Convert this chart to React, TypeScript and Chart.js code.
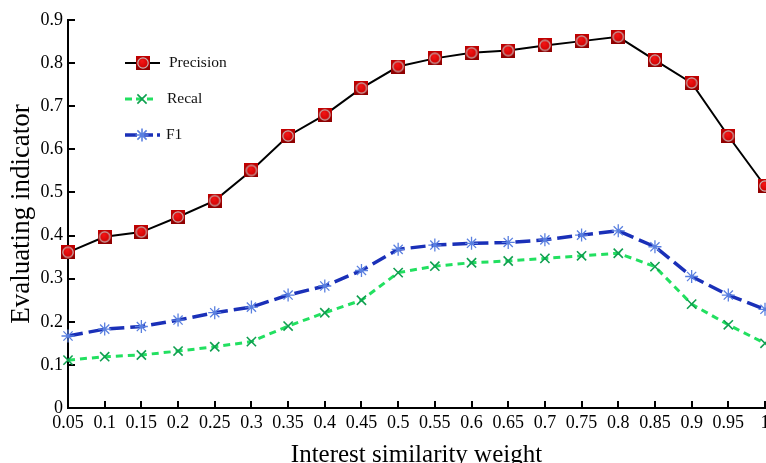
import React, { useEffect, useRef } from 'react';
import { Chart, registerables } from 'chart.js';

Chart.register(...registerables);

const categories = ['0.05', '0.1', '0.15', '0.2', '0.25', '0.3', '0.35', '0.4', '0.45', '0.5', '0.55', '0.6', '0.65', '0.7', '0.75', '0.8', '0.85', '0.9', '0.95', '1'];
const precision = [0.361, 0.397, 0.408, 0.443, 0.481, 0.551, 0.631, 0.680, 0.742, 0.792, 0.811, 0.824, 0.829, 0.841, 0.851, 0.861, 0.807, 0.754, 0.631, 0.515];
const recal = [0.111, 0.119, 0.123, 0.132, 0.142, 0.154, 0.190, 0.221, 0.250, 0.314, 0.329, 0.337, 0.341, 0.347, 0.353, 0.359, 0.328, 0.241, 0.193, 0.150];
const f1 = [0.167, 0.183, 0.189, 0.204, 0.221, 0.234, 0.262, 0.283, 0.319, 0.368, 0.378, 0.382, 0.384, 0.390, 0.401, 0.411, 0.374, 0.305, 0.262, 0.229];
const seriesNames = ['Precision', 'Recal', 'F1'];
const yMin = 0;
const yMax = 0.9;
const yStep = 0.1;
const xTitle = 'Interest similarity weight';
const yTitle = 'Evaluating indicator';

const FONT = "'Liberation Serif', 'Times New Roman', serif";

function makePrecisionMarker(): HTMLCanvasElement {
  const c = document.createElement('canvas');
  c.width = 14;
  c.height = 14;
  const g = c.getContext('2d')!;
  const grad = g.createLinearGradient(0, 0, 0, 14);
  grad.addColorStop(0, '#c40000');
  grad.addColorStop(1, '#8c0000');
  g.fillStyle = grad;
  g.fillRect(0, 0, 14, 14);
  g.beginPath();
  g.arc(7, 7, 5.2, 0, Math.PI * 2);
  const rg = g.createRadialGradient(6, 5, 1, 7, 7, 6);
  rg.addColorStop(0, '#f01414');
  rg.addColorStop(1, '#c80000');
  g.fillStyle = rg;
  g.fill();
  g.strokeStyle = '#c8b4b4';
  g.lineWidth = 1.2;
  g.stroke();
  return c;
}

export default function App() {
  const ref = useRef<HTMLCanvasElement | null>(null);

  useEffect(() => {
    if (!ref.current) return;
    const marker = makePrecisionMarker();

    const styles = [
      { line: '#000000', width: 2, dash: [] as number[], kind: 'img', mark: '#000' },
      { line: '#22e060', width: 3, dash: [7, 5], kind: 'x', mark: '#10a050' },
      { line: '#1a30b8', width: 3.5, dash: [15, 6], kind: 'star', mark: '#5a80e0' },
    ];

    const drawMark = (ctx: CanvasRenderingContext2D, kind: string, x: number, y: number, color: string) => {
      ctx.save();
      ctx.setLineDash([]);
      if (kind === 'img') {
        ctx.drawImage(marker, x - 7, y - 7);
      } else {
        ctx.strokeStyle = color;
        ctx.lineWidth = 1.6;
        const r = 6.5;
        const d = r * Math.SQRT1_2;
        ctx.beginPath();
        ctx.moveTo(x - d, y - d); ctx.lineTo(x + d, y + d);
        ctx.moveTo(x - d, y + d); ctx.lineTo(x + d, y - d);
        if (kind === 'star') {
          ctx.moveTo(x - r, y); ctx.lineTo(x + r, y);
          ctx.moveTo(x, y - r); ctx.lineTo(x, y + r);
        }
        ctx.stroke();
      }
      ctx.restore();
    };

    const decor = {
      id: 'decor',
      beforeDatasetsDraw(chart: any) {
        const ctx = chart.ctx as CanvasRenderingContext2D;
        const { left, bottom } = chart.chartArea;
        const xs = chart.scales.x;
        const ys = chart.scales.y;
        ctx.save();
        ctx.strokeStyle = '#000';
        ctx.lineWidth = 2;
        ctx.beginPath();
        xs.ticks.forEach((_t: any, i: number) => {
          const px = Math.round(xs.getPixelForTick(i));
          ctx.moveTo(px, bottom);
          ctx.lineTo(px, bottom - 7);
        });
        ys.ticks.forEach((_t: any, i: number) => {
          const py = Math.round(ys.getPixelForTick(i));
          ctx.moveTo(left, py);
          ctx.lineTo(left + 7, py);
        });
        ctx.stroke();
        ctx.restore();
      },
      afterDatasetsDraw(chart: any) {
        const ctx = chart.ctx as CanvasRenderingContext2D;
        const { left, top } = chart.chartArea;
        const rows = [
          { y: top + 43, x0: left + 57, x1: left + 92, mx: left + 75, tx: left + 101 },
          { y: top + 79, x0: left + 57, x1: left + 85, mx: left + 74, tx: left + 99 },
          { y: top + 115, x0: left + 57, x1: left + 92, mx: left + 74, tx: left + 98 },
        ];
        rows.forEach((r, i) => {
          const s = styles[i];
          ctx.save();
          ctx.strokeStyle = s.line;
          ctx.lineWidth = s.width;
          ctx.setLineDash(i === 1 ? [7, 4] : i === 2 ? [12, 4] : []);
          ctx.beginPath();
          ctx.moveTo(r.x0, r.y);
          ctx.lineTo(r.x1, r.y);
          ctx.stroke();
          ctx.restore();
          drawMark(ctx, s.kind, r.mx, r.y, s.mark);
          ctx.save();
          ctx.fillStyle = '#111';
          ctx.font = `15.5px ${FONT}`;
          ctx.textBaseline = 'middle';
          ctx.textAlign = 'left';
          ctx.fillText(seriesNames[i], r.tx, r.y);
          ctx.restore();
        });
      },
    };

    const chart = new Chart(ref.current, {
      type: 'line',
      data: {
        labels: categories,
        datasets: [
          {
            label: seriesNames[1],
            data: recal,
            borderColor: styles[1].line,
            borderWidth: styles[1].width,
            borderDash: styles[1].dash,
            pointStyle: 'crossRot',
            pointRadius: 6.5,
            pointBorderColor: styles[1].mark,
            pointBackgroundColor: styles[1].mark,
            pointBorderWidth: 1.6,
            tension: 0,
            clip: false as any,
          },
          {
            label: seriesNames[2],
            data: f1,
            borderColor: styles[2].line,
            borderWidth: styles[2].width,
            borderDash: styles[2].dash,
            pointStyle: 'star',
            pointRadius: 6.5,
            pointBorderColor: styles[2].mark,
            pointBackgroundColor: styles[2].mark,
            pointBorderWidth: 1.3,
            tension: 0,
            clip: false as any,
          },
          {
            label: seriesNames[0],
            data: precision,
            borderColor: styles[0].line,
            borderWidth: styles[0].width,
            pointStyle: marker as any,
            pointRadius: 7,
            tension: 0,
            clip: false as any,
          },
        ],
      },
      options: {
        animation: false,
        responsive: false,
        devicePixelRatio: 1,
        layout: { padding: { left: 0, right: 35, top: 20, bottom: 0 } },
        plugins: { legend: { display: false }, tooltip: { enabled: false } },
        scales: {
          x: {
            type: 'category',
            offset: false,
            grid: { display: true, drawOnChartArea: false, drawTicks: false, offset: false },
            border: { display: true, color: '#000', width: 2 },
            ticks: {
              color: '#000',
              font: { family: FONT, size: 18 },
              padding: 4,
              maxRotation: 0,
              minRotation: 0,
              autoSkip: false,
            },
            title: {
              display: true,
              text: xTitle,
              color: '#000',
              font: { family: FONT, size: 25 },
              padding: { top: 0, bottom: 10 },
            },
            afterFit: (scale: any) => {
              scale.height = 72;
            },
          },
          y: {
            type: 'linear',
            min: yMin,
            max: yMax,
            grid: { display: true, drawOnChartArea: false, drawTicks: false },
            border: { display: true, color: '#000', width: 2 },
            ticks: {
              stepSize: yStep,
              color: '#000',
              font: { family: FONT, size: 18 },
              padding: 5,
              callback: (v: any) => String(Number(Number(v).toFixed(1))),
            },
            title: {
              display: true,
              text: yTitle,
              color: '#000',
              font: { family: FONT, size: 27 },
              padding: { top: 6, bottom: 0 },
            },
            afterFit: (scale: any) => {
              scale.width = 68;
            },
          },
        },
      },
      plugins: [decor],
    });

    return () => chart.destroy();
  }, []);

  return (
    <div style={{ position: 'fixed', left: 0, top: 0, width: 766, height: 463, overflow: 'hidden', background: '#fff' }}>
      <canvas ref={ref} width={800} height={480} style={{ display: 'block' }} />
    </div>
  );
}
